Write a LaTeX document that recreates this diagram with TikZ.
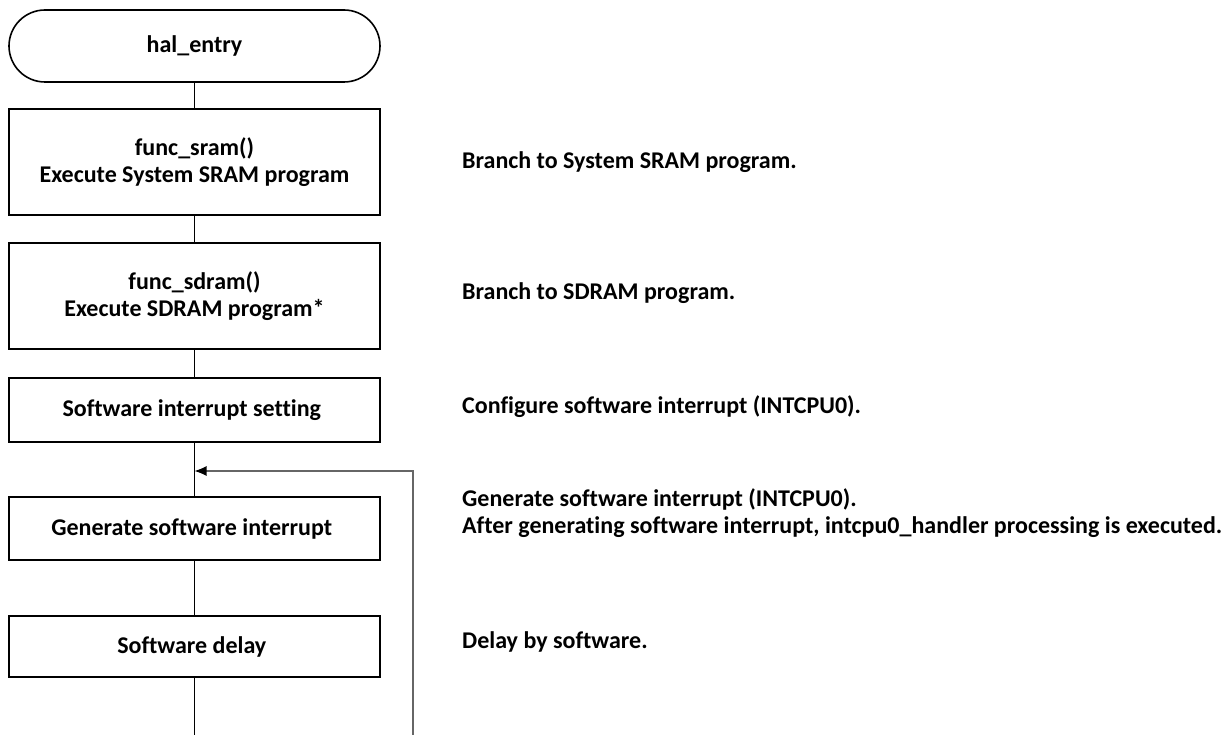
\documentclass[tikz,border=0pt]{standalone}
\usepackage{fontspec}
\setmainfont{Carlito}[Ligatures=NoCommon]
\usetikzlibrary{arrows.meta}

\begin{document}
\begin{tikzpicture}[x=1pt, y=-1pt]
		\tikzstyle{every node}=[font=\bfseries\fontsize{24}{27.5}\selectfont]
		\tikzstyle{proc}=[rectangle, draw, line width=1.6pt, minimum width=371pt, inner sep=0pt, align=center]
		\tikzstyle{term}=[proc, rounded corners=36pt, minimum height=72pt]
		\tikzstyle{note}=[anchor=west, align=left, inner sep=0pt]
		\tikzstyle{flow}=[line width=0.8pt]

		\useasboundingbox (0,0) rectangle (1232,735);

		\node[term] (entry) at (194.5,46) {hal\_entry};

		\node[proc, minimum height=106pt, below of=entry, node distance=116pt] (sram) {
			func\_sram()\\Execute System SRAM program
		};

		\node[proc, minimum height=106pt, below of=sram, node distance=134pt] (sdram) {
			func\_sdram()\\Execute SDRAM program*
		};

		\node[proc, minimum height=64pt, below of=sdram, node distance=114pt] (swint) {
			Software interrupt setting
		};

		\node[proc, minimum height=63pt, below of=swint, node distance=118.5pt] (gensw) {
			Generate software interrupt
		};

		\node[proc, minimum height=61pt, below of=gensw, node distance=118pt] (swdelay) {
			Software delay
		};

		\node[note] (nsram) at (462,162) {Branch to System SRAM program.};
		\node[note] (nsdram) at (462,293) {Branch to SDRAM program.};
		\node[note] (nswint) at (462,407) {Configure software interrupt (INTCPU0).};
		\node[note] (ngensw) at (462,513) {
			Generate software interrupt (INTCPU0).\\
			After generating software interrupt, intcpu0\_handler processing is executed.
		};
		\node[note] (ndelay) at (462,642) {Delay by software.};

		\coordinate (join) at (194.5,471);
		\coordinate (tail) at (194.5,735);
		\coordinate (loopend) at (413,735);

		\draw[flow] (entry) -- (sram);
		\draw[flow] (sram) -- (sdram);
		\draw[flow] (sdram) -- (swint);
		\draw[flow] (swint) -- (gensw);
		\draw[flow] (gensw) -- (swdelay);
		\draw[flow] (swdelay) -- (tail);
		\draw[flow, line width=1.2pt, black!60, -{Latex[black, length=12pt, width=10pt]}] (loopend) |- (join);

	\end{tikzpicture}
\end{document}
